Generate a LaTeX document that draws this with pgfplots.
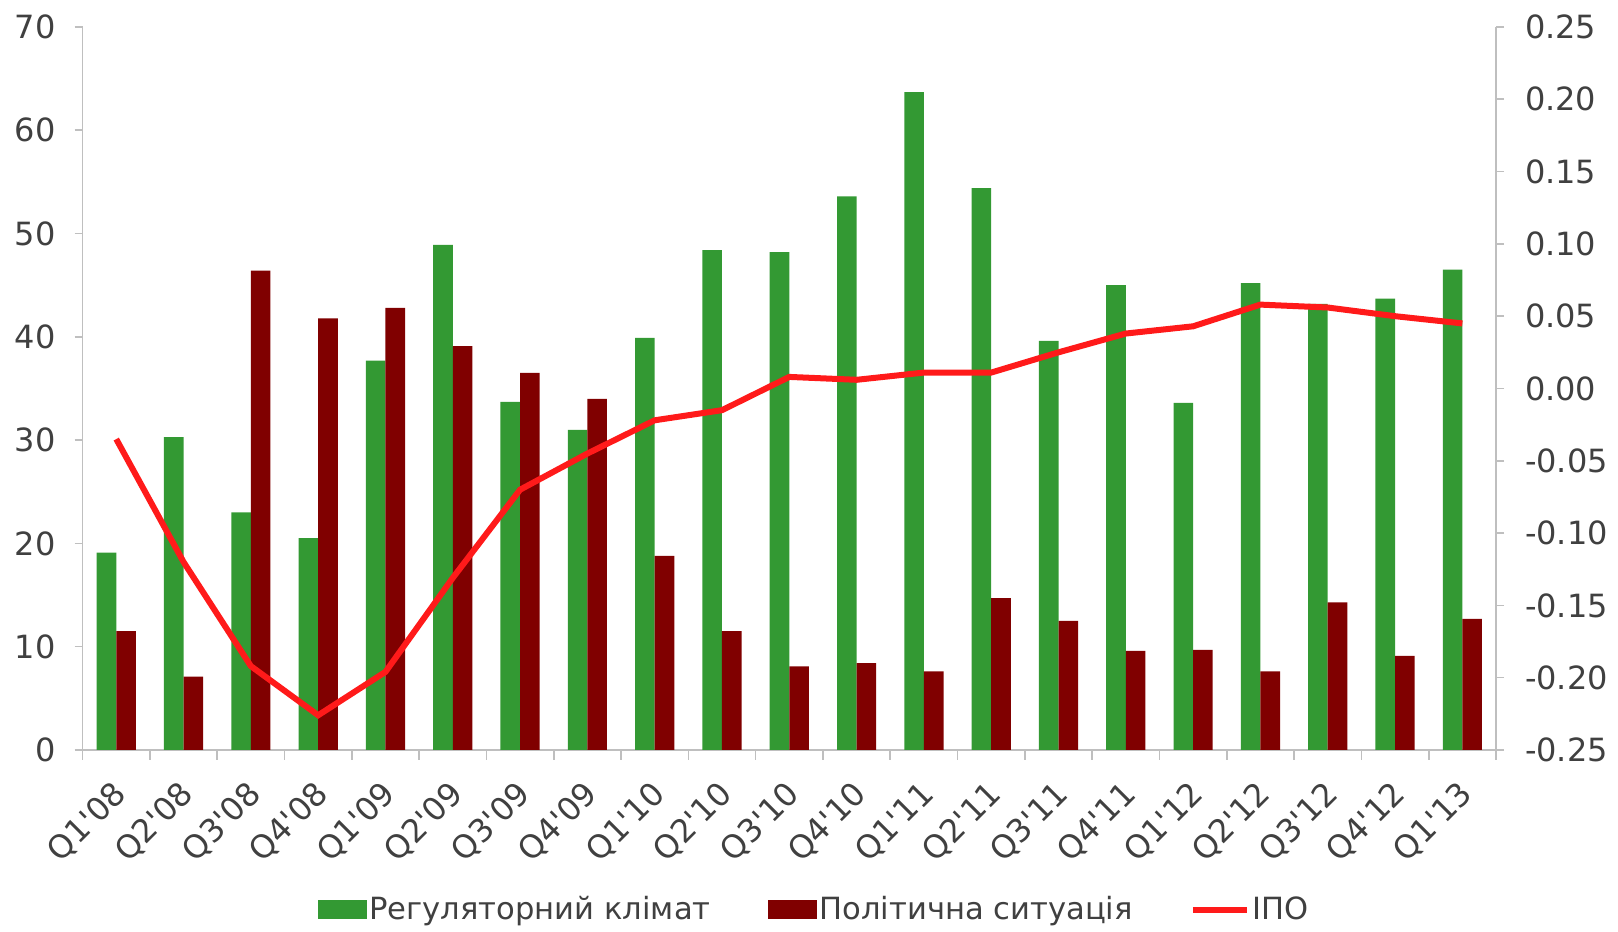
\documentclass[border=0pt]{standalone}
\usepackage{pgfplots}
\pgfplotsset{compat=1.18}
\usepackage{pgfplotstable}
\usepackage{fontspec}
\setmainfont{DejaVu Sans}
\definecolor{gbar}{HTML}{339933}
\definecolor{rbar}{HTML}{800000}
\definecolor{ipo}{HTML}{FF1A1A}
\definecolor{axgray}{HTML}{BFBFBF}
\definecolor{txt}{HTML}{404040}

\pgfplotstableread{
x g r
0 19.1 11.5
1 30.3 7.1
2 23.0 46.4
3 20.5 41.8
4 37.7 42.8
5 48.9 39.1
6 33.7 36.5
7 31.0 34.0
8 39.9 18.8
9 48.4 11.5
10 48.2 8.1
11 53.6 8.4
12 63.7 7.6
13 54.4 14.7
14 39.6 12.5
15 45.0 9.6
16 33.6 9.7
17 45.2 7.6
18 43.2 14.3
19 43.7 9.1
20 46.5 12.7
}\bars

\pgfplotstableread{
x v
0 -0.035
1 -0.120
2 -0.192
3 -0.226
4 -0.196
5 -0.131
6 -0.070
7 -0.045
8 -0.022
9 -0.015
10 0.008
11 0.006
12 0.011
13 0.011
14 0.025
15 0.038
16 0.043
17 0.058
18 0.056
19 0.050
20 0.045
}\ipodata

\def\q{\textquotesingle}
\begin{document}
\begin{tikzpicture}[font=\fontsize{16}{19}\selectfont]
\begin{axis}[name=main,
  scale only axis, width=706.7pt, height=361.5pt,
  xmin=-0.5, xmax=20.5, ymin=0, ymax=70, enlargelimits=false,
  axis x line*=bottom, axis y line*=left,
  axis line style={axgray, line width=0.8pt, -},
  ybar=0pt, bar width=9.8pt,
  ytick={0,10,...,70},
  xtick={0,...,20},
  xticklabels={Q1\q08,Q2\q08,Q3\q08,Q4\q08,Q1\q09,Q2\q09,Q3\q09,Q4\q09,Q1\q10,Q2\q10,Q3\q10,Q4\q10,Q1\q11,Q2\q11,Q3\q11,Q4\q11,Q1\q12,Q2\q12,Q3\q12,Q4\q12,Q1\q13},
  minor xtick={-0.5,0.5,...,20.5},
  major x tick style={draw=none},
  tick align=outside,
  major tick length=4pt, minor tick length=5pt,
  tick style={axgray, line width=0.8pt},
  yticklabel style={text=txt, xshift=-6pt},
  xticklabel style={text=txt, xshift=-2.5pt, yshift=-9pt, rotate=45, anchor=north east, inner sep=1pt},
  /pgf/number format/assume math mode=true,
  legend columns=3,
  legend style={at={(0.518,-0.221)}, anchor=center, draw=none, text=txt,
    font=\fontsize{15.3}{18}\selectfont,
    nodes={inner sep=1.5pt},
    /tikz/every even column/.append style={column sep=27pt}},
]
\addplot[fill=gbar, draw=none,
  legend image code/.code={\fill[gbar] (0pt,-4.75pt) rectangle (24.5pt,4.75pt);}]
  table[x=x, y=g]{\bars};
\addlegendentry{Регуляторний клімат}
\addplot[fill=rbar, draw=none,
  legend image code/.code={\fill[rbar] (0pt,-4.75pt) rectangle (24.5pt,4.75pt);}]
  table[x=x, y=r]{\bars};
\addlegendentry{Політична ситуація}
\addlegendimage{legend image code/.code={\draw[ipo, line width=3pt] (0pt,0pt) -- (27pt,0pt);}}
\addlegendentry{ІПО}
\end{axis}
\begin{axis}[
  scale only axis, width=706.7pt, height=361.5pt,
  xmin=-0.5, xmax=20.5, ymin=-0.25, ymax=0.25, enlargelimits=false,
  axis x line=none, axis y line*=right,
  axis line style={axgray, line width=0.8pt, -},
  tick align=outside, major tick length=4pt,
  tick style={axgray, line width=0.8pt},
  ytick={-0.25,-0.20,-0.15,-0.10,-0.05,0,0.05,0.10,0.15,0.20,0.25},
  yticklabel style={text=txt, xshift=7pt, /pgf/number format/.cd, fixed, fixed zerofill, precision=2, assume math mode=true},
]
\addplot[ipo, line width=3pt, mark=none] table[x=x, y=v]{\ipodata};
\end{axis}
\pgfresetboundingbox
\path[use as bounding box] ([xshift=-41.3pt, yshift=-91pt]main.south west) rectangle ([xshift=61pt, yshift=13.5pt]main.north east);
\end{tikzpicture}
\end{document}
